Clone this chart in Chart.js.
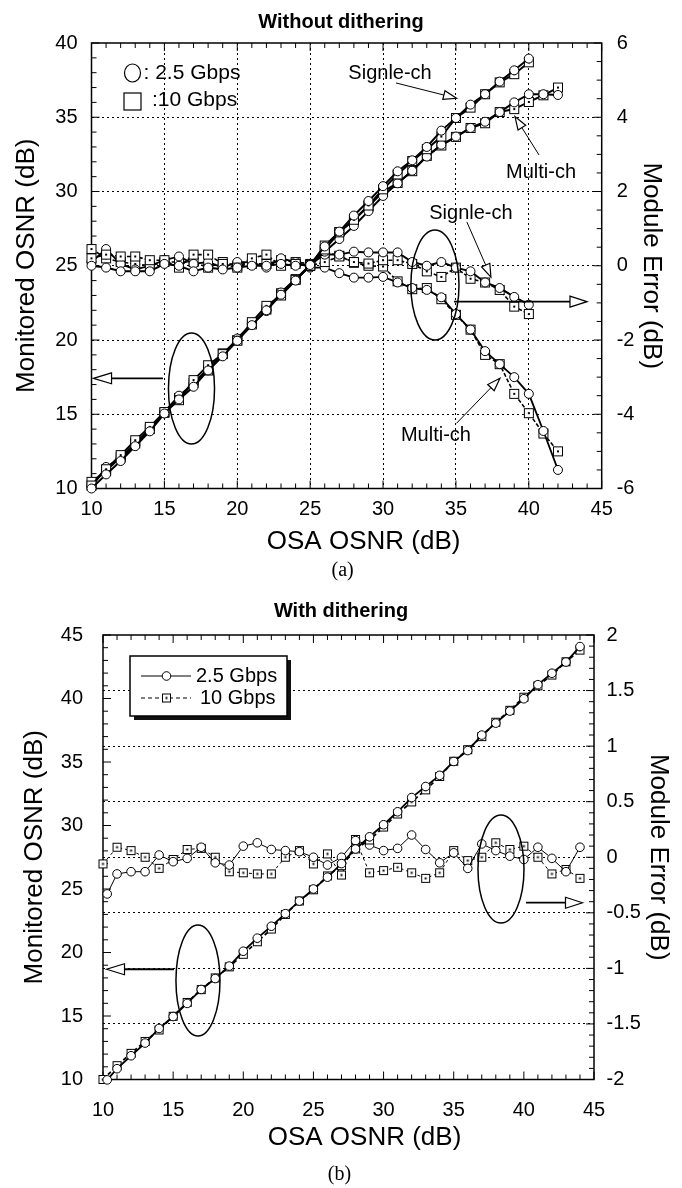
<!DOCTYPE html>
<html lang="en">

<head>
  <meta charset="UTF-8">
  <meta name="viewport" content="width=device-width, initial-scale=1.0">
  <script src="https://cdn.jsdelivr.net/npm/chart.js"></script>
  <title>OSNR monitoring</title>
  <style>
    body { margin: 0; background: #fff; }
    .panel { position: absolute; left: 0; width: 682px; }
    canvas { display: block; }
  </style>
</head>

<body>
  <div class="panel" style="top: 0; height: 590px;">
    <canvas id="chartA" width="682" height="590"></canvas>
  </div>
  <div class="panel" style="top: 590px; height: 598px;">
    <canvas id="chartB" width="682" height="598"></canvas>
  </div>

  <script>
    // ---- (a) without dithering ----
    const osaA = [10, 11, 12, 13, 14, 15, 16, 17, 18, 19, 20, 21, 22, 23, 24, 25, 26, 27, 28, 29, 30, 31, 32, 33, 34, 35, 36, 37, 38, 39, 40, 41, 42];

    const singleMon25 = [10.0, 10.95, 11.85, 12.85, 13.85, 15.05, 16.0, 16.85, 17.95, 18.9, 19.95, 21.0, 22.0, 23.05, 24.0, 25.05, 26.3, 27.3, 28.38, 29.36, 30.36, 31.36, 32.1, 33.0, 34.1, 34.95, 35.85, 36.55, 37.4, 38.16, 38.95];
    const singleMon10 = [10.2, 11.3, 12.25, 13.25, 14.15, 15.15, 15.95, 17.3, 18.3, 19.05, 19.95, 21.2, 22.3, 23.0, 24.05, 25.0, 26.1, 27.25, 28.1, 29.06, 30.15, 31.15, 32.05, 32.85, 33.7, 34.95, 35.65, 36.55, 37.35, 37.9, 38.7];
    const multiMon25 = [10.1, 11.45, 12.05, 12.9, 14.0, 15.15, 16.25, 17.05, 18.1, 18.95, 20.1, 21.1, 21.95, 23.2, 24.1, 24.95, 25.95, 26.8, 27.68, 28.68, 29.7, 30.55, 31.4, 32.35, 33.15, 33.7, 34.28, 34.7, 35.35, 36.0, 36.55, 36.55, 36.5];
    const multiMon10 = [10.45, 11.2, 12.1, 13.05, 14.0, 15.1, 16.1, 17.1, 17.95, 19.1, 20.0, 21.05, 22.05, 23.15, 24.1, 25.05, 26.36, 27.27, 28.08, 29.0, 29.98, 30.58, 31.37, 32.4, 33.1, 33.68, 34.28, 34.6, 35.35, 35.55, 36.03, 36.48, 37.0];

    const singleErr25 = [0.0, -0.05, -0.15, -0.15, -0.15, 0.05, 0.0, -0.15, -0.05, -0.1, -0.05, 0.0, 0.0, 0.05, 0.0, 0.05, 0.3, 0.3, 0.38, 0.36, 0.36, 0.36, 0.1, 0.0, 0.1, -0.05, -0.15, -0.45, -0.6, -0.84, -1.05];
    const singleErr10 = [0.2, 0.3, 0.25, 0.25, 0.15, 0.15, -0.05, 0.3, 0.3, 0.05, -0.05, 0.2, 0.3, 0.0, 0.05, 0.0, 0.1, 0.25, 0.1, 0.06, 0.15, 0.15, 0.05, -0.15, -0.3, -0.05, -0.35, -0.45, -0.65, -1.1, -1.3];
    const multiErr25 = [0.1, 0.45, 0.05, -0.1, 0.0, 0.15, 0.25, 0.05, 0.1, -0.05, 0.1, 0.1, -0.05, 0.2, 0.1, -0.05, -0.05, -0.2, -0.32, -0.32, -0.3, -0.45, -0.6, -0.65, -0.85, -1.3, -1.72, -2.3, -2.65, -3.0, -3.45, -4.45, -5.5];
    const multiErr10 = [0.45, 0.2, 0.1, 0.05, 0.0, 0.1, 0.1, 0.1, -0.05, 0.1, 0.0, 0.05, 0.05, 0.15, 0.1, 0.05, 0.36, 0.27, 0.08, 0.0, -0.02, -0.42, -0.63, -0.6, -0.9, -1.32, -1.72, -2.4, -2.65, -3.45, -3.97, -4.52, -5.0];

    // ---- (b) with dithering ----
    const osaB25 = [10.3, 11, 12, 13, 14, 15, 16, 17, 18, 19, 20, 21, 22, 23, 24, 25, 26, 27, 28, 29, 30, 31, 32, 33, 34, 35, 36, 37, 38, 39, 40, 41, 42, 43, 44];
    const osaB10 = [10, 11, 12, 13, 14, 15, 16, 17, 18, 19, 20, 21, 22, 23, 24, 25, 26, 27, 28, 29, 30, 31, 32, 33, 34, 35, 36, 37, 38, 39, 40, 41, 42, 43, 44];

    const monB25 = [9.97, 10.85, 11.87, 12.87, 14.02, 14.96, 15.99, 17.09, 17.95, 18.93, 20.1, 21.13, 22.07, 23.06, 24.05, 25.0, 25.93, 27.0, 28.15, 29.11, 30.06, 31.08, 32.2, 33.07, 33.95, 35.04, 35.9, 37.12, 38.06, 39.01, 39.98, 41.09, 41.99, 42.87, 44.09];
    const monB10 = [10.0, 11.09, 12.06, 13.0, 13.9, 14.98, 16.07, 17.08, 18.0, 18.87, 19.86, 20.85, 21.85, 23.0, 24.06, 24.94, 26.03, 26.84, 28.16, 28.86, 29.88, 30.91, 31.86, 32.81, 33.86, 35.06, 35.97, 37.0, 38.13, 39.07, 40.1, 41.0, 41.85, 42.89, 43.81];
    const errB25 = [-0.33, -0.15, -0.13, -0.13, 0.02, -0.04, -0.01, 0.09, -0.05, -0.07, 0.1, 0.13, 0.07, 0.06, 0.05, 0.0, -0.07, 0.0, 0.15, 0.11, 0.06, 0.08, 0.2, 0.07, -0.05, 0.04, -0.1, 0.12, 0.06, 0.01, -0.02, 0.09, -0.01, -0.13, 0.09];
    const errB10 = [-0.06, 0.09, 0.06, 0.0, -0.1, -0.02, 0.07, 0.08, 0.0, -0.13, -0.14, -0.15, -0.15, 0.0, 0.06, -0.06, 0.03, -0.16, 0.16, -0.14, -0.12, -0.09, -0.14, -0.19, -0.14, 0.06, -0.03, 0.0, 0.13, 0.07, 0.1, 0.0, -0.15, -0.11, -0.19];

    const FONT = "'Liberation Sans', Arial, sans-serif";
    const SERIF = "'Liberation Serif', 'Times New Roman', serif";
    Chart.defaults.font.family = FONT;
    Chart.defaults.color = '#000';

    const pts = (xs, ys) => ys.map((y, i) => ({ x: xs[i], y: y }));

    // open square with a dot in the middle
    const squareMark = (side) => {
      const c = document.createElement('canvas');
      const s = Math.ceil(side) + 2;
      c.width = s; c.height = s;
      const g = c.getContext('2d');
      const o = (s - side) / 2;
      g.fillStyle = '#fff';
      g.fillRect(o, o, side, side);
      g.strokeStyle = '#000';
      g.lineWidth = 1;
      g.strokeRect(o + 0.5, o + 0.5, side - 1, side - 1);
      g.fillStyle = '#000';
      g.fillRect(s / 2 - 1, s / 2 - 1, 2, 2);
      return c;
    };
    const sqA = squareMark(10);
    const sqB = squareMark(9);

    const line = (xs, ys, axis, mark, width, dash, r) => ({
      data: pts(xs, ys),
      yAxisID: axis,
      borderColor: '#000',
      borderWidth: width,
      borderDash: dash,
      backgroundColor: '#fff',
      pointStyle: mark,
      pointRadius: r,
      pointBorderColor: '#000',
      pointBackgroundColor: '#fff',
      pointBorderWidth: 1,
      tension: 0,
      clip: false
    });

    const inner = (lo, hi) => (c) => (c.tick && c.tick.value > lo && c.tick.value < hi) ? '#000' : 'rgba(0,0,0,0)';
    const plain = (v) => String(Math.round(v * 100) / 100);

    function arrow(ctx, x1, y1, x2, y2, w, len, half) {
      const ang = Math.atan2(y2 - y1, x2 - x1);
      const bx = x2 - len * Math.cos(ang), by = y2 - len * Math.sin(ang);
      ctx.lineWidth = w;
      ctx.beginPath(); ctx.moveTo(x1, y1); ctx.lineTo(bx, by); ctx.stroke();
      ctx.lineWidth = 1.2;
      ctx.beginPath();
      ctx.moveTo(x2, y2);
      ctx.lineTo(bx + half * Math.sin(ang), by - half * Math.cos(ang));
      ctx.lineTo(bx - half * Math.sin(ang), by + half * Math.cos(ang));
      ctx.closePath();
      ctx.fillStyle = '#fff'; ctx.fill(); ctx.stroke();
    }

    // frame + inward major/minor ticks on all four sides
    const frameTicks = {
      id: 'frameTicks',
      beforeDatasetsDraw(chart, args, o) {
        const { ctx, chartArea: a } = chart;
        const run = (sc, spec, draw) => {
          const n = Math.round((sc.max - sc.min) / spec.minor);
          for (let i = 0; i <= n; i++) {
            const v = sc.min + i * spec.minor;
            const q = v / spec.major;
            draw(sc.getPixelForValue(v), Math.abs(q - Math.round(q)) < 1e-6 ? 8 : 5);
          }
        };
        ctx.save();
        ctx.strokeStyle = '#000';
        ctx.lineWidth = 1;
        ctx.beginPath();
        run(chart.scales.x, o.x, (p, len) => {
          ctx.moveTo(p, a.bottom); ctx.lineTo(p, a.bottom - len);
          ctx.moveTo(p, a.top); ctx.lineTo(p, a.top + len);
        });
        run(chart.scales.y, o.y, (p, len) => { ctx.moveTo(a.left, p); ctx.lineTo(a.left + len, p); });
        run(chart.scales.y2, o.y2, (p, len) => { ctx.moveTo(a.right, p); ctx.lineTo(a.right - len, p); });
        ctx.stroke();
        ctx.lineWidth = 1.5;
        ctx.strokeRect(a.left, a.top, a.right - a.left, a.bottom - a.top);
        ctx.restore();
      }
    };

    // x title, panel tag, callouts, rings, arrows, legend
    const notes = {
      id: 'notes',
      afterDraw(chart, args, o) {
        const { ctx, chartArea: a, scales: { x, y } } = chart;
        const px = v => x.getPixelForValue(v), py = v => y.getPixelForValue(v);
        const mid = (a.left + a.right) / 2;
        ctx.save();
        ctx.fillStyle = '#000';
        ctx.strokeStyle = '#000';
        ctx.textAlign = 'center';
        ctx.textBaseline = 'middle';
        ctx.font = '26px ' + FONT;
        ctx.fillText(o.xTitle, mid + o.xTitleShift, o.xTitleY);
        ctx.font = '20px ' + SERIF;
        ctx.fillText(o.tag, mid + o.tagShift, o.tagY);
        ctx.font = '20px ' + FONT;
        o.labels.forEach(l => ctx.fillText(l.text, px(l.x), py(l.y)));
        o.rings.forEach(r => {
          ctx.lineWidth = 1.5;
          ctx.beginPath();
          ctx.ellipse(px(r.x), py(r.y), Math.abs(px(r.x + r.rx) - px(r.x)), Math.abs(py(r.y + r.ry) - py(r.y)), 0, 0, 2 * Math.PI);
          ctx.stroke();
        });
        o.arrows.forEach(w => {
          ctx.strokeStyle = '#000';
          arrow(ctx, px(w.x1), py(w.y1), px(w.x2), py(w.y2), w.w, w.len, w.half);
        });
        o.legend(ctx, a);
        ctx.restore();
      }
    };

    const tickFont = { size: 20, family: FONT };
    const titleFont = { size: 26, family: FONT };

    // ---------------- chart (a) ----------------
    new Chart(document.getElementById('chartA'), {
      type: 'line',
      data: {
        datasets: [
          line(osaA, singleMon25, 'y', 'circle', 2, [], 4.5),
          line(osaA, singleMon10, 'y', sqA, 2, [], 5),
          line(osaA, multiMon25, 'y', 'circle', 2, [], 4.5),
          line(osaA, multiMon10, 'y', sqA, 2, [], 5),
          line(osaA, singleErr25, 'y2', 'circle', 2, [], 4.5),
          line(osaA, singleErr10, 'y2', sqA, 1.6, [4, 2], 5),
          line(osaA, multiErr25, 'y2', 'circle', 1.8, [], 4.5),
          line(osaA, multiErr10, 'y2', sqA, 1.6, [4, 2], 5)
        ]
      },
      options: {
        responsive: false,
        animation: false,
        events: [],
        layout: { padding: 0 },
        scales: {
          x: {
            type: 'linear', min: 10, max: 45,
            afterFit: s => { s.height = 101.5; },
            ticks: { stepSize: 5, font: tickFont, color: '#000', padding: 8.5, maxRotation: 0, callback: plain },
            grid: { drawTicks: false, color: inner(10, 45), lineWidth: 1 },
            border: { display: false, dash: [2, 3] }
          },
          y: {
            position: 'left', min: 10, max: 40,
            afterFit: s => { s.width = 91.5; },
            ticks: { stepSize: 5, font: tickFont, color: '#000', padding: 14, callback: plain },
            grid: { drawTicks: false, color: inner(10, 40), lineWidth: 1 },
            border: { display: false, dash: [2, 3] },
            title: { display: true, text: 'Monitored OSNR (dB)', font: titleFont, color: '#000', padding: { top: 11, bottom: 0 } }
          },
          y2: {
            position: 'right', min: -6, max: 6,
            afterFit: s => { s.width = 80.3; },
            ticks: { stepSize: 2, font: tickFont, color: '#000', padding: 15, callback: plain },
            grid: { drawTicks: false, drawOnChartArea: false },
            border: { display: false },
            title: { display: true, text: 'Module Error (dB)', font: titleFont, color: '#000', padding: { top: 15, bottom: 0 } }
          }
        },
        plugins: {
          legend: { display: false },
          tooltip: { enabled: false },
          title: {
            display: true, text: 'Without dithering', color: '#000',
            font: { size: 20, weight: 'bold', family: FONT },
            padding: { top: 10, bottom: 9 }
          },
          frameTicks: { x: { major: 5, minor: 1 }, y: { major: 5, minor: 1 }, y2: { major: 2, minor: 0.5 } },
          notes: {
            xTitle: 'OSA OSNR (dB)', xTitleShift: 17, xTitleY: 542,
            tag: '(a)', tagShift: -4, tagY: 571,
            labels: [
              { text: 'Signle-ch', x: 30.48, y: 37.98 },
              { text: 'Multi-ch', x: 40.84, y: 31.25 },
              { text: 'Signle-ch', x: 36.03, y: 28.55 },
              { text: 'Multi-ch', x: 33.63, y: 13.6 }
            ],
            rings: [
              { x: 33.56, y: 23.7, rx: 1.65, ry: 3.7 },
              { x: 16.86, y: 16.73, rx: 1.58, ry: 3.74 }
            ],
            arrows: [
              { x1: 30.89, y1: 37.31, x2: 35.04, y2: 36.28, w: 1, len: 13, half: 4.5 },
              { x1: 40.7, y1: 32.46, x2: 39.05, y2: 35.04, w: 1, len: 13, half: 4.5 },
              { x1: 35.75, y1: 27.95, x2: 37.4, y2: 24.24, w: 1, len: 13, half: 4.5 },
              { x1: 35.04, y1: 14.39, x2: 38.02, y2: 17.42, w: 1, len: 13, half: 4.5 },
              { x1: 34.87, y1: 22.58, x2: 43.99, y2: 22.58, w: 1.8, len: 17, half: 5.5 },
              { x1: 14.9, y1: 17.42, x2: 10.14, y2: 17.42, w: 1.8, len: 18, half: 5.5 }
            ],
            legend: (ctx, a) => {
              ctx.lineWidth = 1.2;
              ctx.strokeStyle = '#000';
              ctx.beginPath();
              ctx.ellipse(a.left + 41, a.top + 30, 8, 9, 0, 0, 2 * Math.PI);
              ctx.stroke();
              ctx.strokeRect(a.left + 32.5, a.top + 50, 17, 17);
              ctx.font = '21px ' + FONT;
              ctx.textAlign = 'left';
              ctx.fillStyle = '#000';
              ctx.fillText(': 2.5 Gbps', a.left + 52, a.top + 30);
              ctx.fillText(':10 Gbps', a.left + 60.5, a.top + 57);
            }
          }
        }
      },
      plugins: [frameTicks, notes]
    });

    // ---------------- chart (b) ----------------
    new Chart(document.getElementById('chartB'), {
      type: 'line',
      data: {
        datasets: [
          line(osaB25, monB25, 'y', 'circle', 1.8, [], 4.3),
          line(osaB10, monB10, 'y', sqB, 1.8, [4, 3], 4.5),
          line(osaB25, errB25, 'y2', 'circle', 1, [], 4.3),
          line(osaB10, errB10, 'y2', sqB, 1, [3, 3], 4.5)
        ]
      },
      options: {
        responsive: false,
        animation: false,
        events: [],
        layout: { padding: 0 },
        scales: {
          x: {
            type: 'linear', min: 10, max: 45,
            afterFit: s => { s.height = 108.5; },
            ticks: { stepSize: 5, font: tickFont, color: '#000', padding: 11, maxRotation: 0, callback: plain },
            grid: { display: false },
            border: { display: false }
          },
          y: {
            position: 'left', min: 10, max: 45,
            afterFit: s => { s.width = 103; },
            ticks: { stepSize: 5, font: tickFont, color: '#000', padding: 12, callback: plain },
            grid: { display: false },
            border: { display: false },
            title: { display: true, text: 'Monitored OSNR (dB)', font: titleFont, color: '#000', padding: { top: 19, bottom: 0 } }
          },
          y2: {
            position: 'right', min: -2, max: 2,
            afterFit: s => { s.width = 88; },
            ticks: { stepSize: 0.5, font: tickFont, color: '#000', padding: 12.5, callback: plain },
            grid: { drawTicks: false, color: inner(-2, 2), lineWidth: 1 },
            border: { display: false, dash: [2, 3] },
            title: { display: true, text: 'Module Error (dB)', font: titleFont, color: '#000', padding: { top: 8, bottom: 0 } }
          }
        },
        plugins: {
          legend: { display: false },
          tooltip: { enabled: false },
          title: {
            display: true, text: 'With dithering', color: '#000',
            font: { size: 20, weight: 'bold', family: FONT },
            padding: { top: 9, bottom: 12 }
          },
          frameTicks: { x: { major: 5, minor: 1 }, y: { major: 5, minor: 1 }, y2: { major: 0.5, minor: 0.1 } },
          notes: {
            xTitle: 'OSA OSNR (dB)', xTitleShift: 16, xTitleY: 548,
            tag: '(b)', tagShift: -9, tagY: 585,
            labels: [],
            rings: [
              { x: 38.37, y: 26.57, rx: 1.64, ry: 4.25 },
              { x: 16.77, y: 17.8, rx: 1.57, ry: 4.37 }
            ],
            arrows: [
              { x1: 40.15, y1: 23.92, x2: 44.18, y2: 23.92, w: 1.8, len: 17, half: 5.5 },
              { x1: 15.06, y1: 18.68, x2: 10.25, y2: 18.68, w: 1.8, len: 18, half: 5.5 }
            ],
            legend: (ctx, a) => {
              const L = a.left + 27, T = a.top + 21, W = 157, H = 60;
              ctx.fillStyle = '#111';
              ctx.fillRect(L + 4, T + 4, W, H);
              ctx.fillStyle = '#fff';
              ctx.fillRect(L, T, W, H);
              ctx.lineWidth = 1.5;
              ctx.strokeStyle = '#000';
              ctx.strokeRect(L, T, W, H);
              ctx.lineWidth = 1;
              ctx.beginPath(); ctx.moveTo(L + 11, T + 20); ctx.lineTo(L + 61, T + 20); ctx.stroke();
              ctx.setLineDash([4, 3]);
              ctx.beginPath(); ctx.moveTo(L + 11, T + 42); ctx.lineTo(L + 61, T + 42); ctx.stroke();
              ctx.setLineDash([]);
              ctx.beginPath(); ctx.arc(L + 36.5, T + 20, 4.3, 0, 2 * Math.PI); ctx.fill(); ctx.stroke();
              ctx.drawImage(sqB, L + 36.5 - sqB.width / 2, T + 42 - sqB.height / 2);
              ctx.fillStyle = '#000';
              ctx.font = '20px ' + FONT;
              ctx.textAlign = 'left';
              ctx.fillText('2.5 Gbps', L + 66, T + 20);
              ctx.fillText('10 Gbps', L + 70, T + 42);
            }
          }
        }
      },
      plugins: [frameTicks, notes]
    });
  </script>
</body>

</html>
